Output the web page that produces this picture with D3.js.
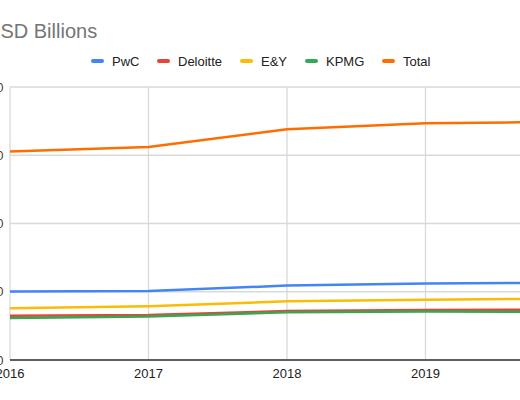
<!DOCTYPE html>
<html>
<head>
<meta charset="utf-8">
<script src="https://cdn.jsdelivr.net/npm/d3@7"></script>
<style>
  html, body { margin: 0; padding: 0; background: #fff; overflow: hidden; }
  svg { display: block; font-family: Arial, "Liberation Sans", sans-serif; }
</style>
</head>
<body>
<svg id="chart"></svg>
<script>
// data
const years = [2016, 2017, 2018, 2019, 2020];
const pwc = [50.1, 50.5, 54.5, 56.0, 56.7];
const deloitte = [32.5, 33.0, 35.9, 36.6, 37.0];
const ey = [37.9, 39.4, 43.0, 44.2, 45.0];
const kpmg = [30.8, 31.9, 35.0, 35.6, 35.2];
const total = [152.7, 156.0, 169.0, 173.4, 174.5];
const yTicks = [0, 50, 100, 150, 200];

const seriesNames = ["PwC", "Deloitte", "E&Y", "KPMG", "Total"];
const seriesValues = [pwc, deloitte, ey, kpmg, total];
const colors = ["#4285f4", "#ea4335", "#fbbc04", "#34a853", "#ff6d01"];

const w = 520, h = 400;
const plotLeft = 10, plotRight = 564, plotTop = 87, plotBottom = 360;

const svg = d3.select("#chart").attr("width", w).attr("height", h);

const x = d3.scaleLinear().domain([2016, 2020]).range([plotLeft, plotRight]);
const y = d3.scaleLinear().domain([0, 200]).range([plotBottom, plotTop]);

// title (starts off the left edge, like the crop)
svg.append("text")
   .attr("x", -14)
   .attr("y", 38)
   .attr("font-size", 20)
   .attr("fill", "#757575")
   .text("USD Billions");

// horizontal gridlines
svg.append("g")
   .selectAll("line")
   .data(yTicks)
   .enter()
   .append("line")
   .attr("x1", plotLeft).attr("x2", plotRight)
   .attr("y1", d => y(d)).attr("y2", d => y(d))
   .attr("stroke", "#d9d9d9")
   .attr("stroke-width", 1.3);

// vertical gridlines
svg.append("g")
   .selectAll("line")
   .data(years)
   .enter()
   .append("line")
   .attr("x1", d => x(d)).attr("x2", d => x(d))
   .attr("y1", plotTop).attr("y2", plotBottom)
   .attr("stroke", "#d9d9d9")
   .attr("stroke-width", 1.3);

// baseline
svg.append("line")
   .attr("x1", plotLeft).attr("x2", plotRight)
   .attr("y1", y(0)).attr("y2", y(0))
   .attr("stroke", "#333")
   .attr("stroke-width", 1.3);

// y labels
svg.append("g")
   .selectAll("text")
   .data(yTicks)
   .enter()
   .append("text")
   .attr("x", 3.5)
   .attr("y", d => y(d) + 4.5)
   .attr("text-anchor", "end")
   .attr("font-size", 13)
   .attr("fill", "#444")
   .text(d => d);

// x labels
svg.append("g")
   .selectAll("text")
   .data(years)
   .enter()
   .append("text")
   .attr("x", d => x(d))
   .attr("y", 378)
   .attr("text-anchor", "middle")
   .attr("font-size", 13)
   .attr("fill", "#222")
   .text(d => d);

// lines
const line = d3.line()
   .x((d, i) => x(years[i]))
   .y(d => y(d));

svg.append("g")
   .selectAll("path")
   .data(seriesValues)
   .enter()
   .append("path")
   .attr("d", d => line(d))
   .attr("fill", "none")
   .attr("stroke", (d, i) => colors[i])
   .attr("stroke-width", 2.5)
   .attr("stroke-linejoin", "round");

// legend
const legendX = [91, 157, 240, 305, 382];
const legend = svg.append("g")
   .selectAll("g")
   .data(seriesNames)
   .enter()
   .append("g")
   .attr("transform", (d, i) => `translate(${legendX[i]}, 61)`);

legend.append("rect")
   .attr("x", 0).attr("y", -2)
   .attr("width", 13).attr("height", 4)
   .attr("rx", 2)
   .attr("fill", (d, i) => colors[i]);

legend.append("text")
   .attr("x", 21)
   .attr("y", 4.5)
   .attr("font-size", 13)
   .attr("fill", "#222")
   .text(d => d);
</script>
</body>
</html>
